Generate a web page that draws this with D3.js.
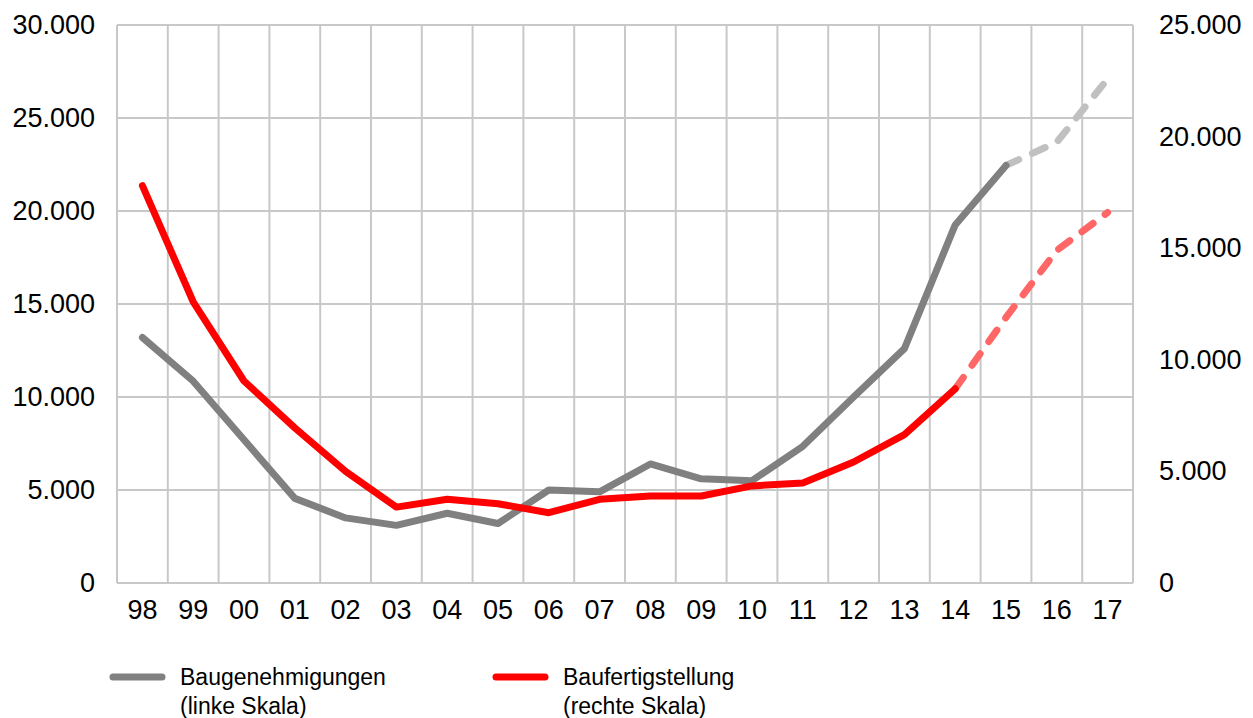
<!DOCTYPE html>
<html>
<head>
<meta charset="utf-8">
<script src="https://cdn.jsdelivr.net/npm/d3@7"></script>
<style>
  body { margin: 0; background: #fff; }
  text { font-family: "Liberation Sans", Arial, sans-serif; fill: #000; }
</style>
</head>
<body>
<div id="chart"></div>
<script>
// categories (years) and the two series
var years = ["98","99","00","01","02","03","04","05","06","07","08","09","10","11","12","13","14","15","16","17"]
// Baugenehmigungen, left scale
var permits = [13200,10850,7700,4550,3500,3100,3750,3200,5000,4900,6400,5600,5500,7350,10000,12600,19250,22450,23700,27100]
// Baufertigstellung, right scale
var completions = [17800,12600,9050,6950,5000,3400,3750,3550,3150,3750,3900,3900,4350,4480,5420,6650,8700,11900,14900,16600]
var permitsLastActual = 17     // index of "15": dashed after it
var completionsLastActual = 16 // index of "14"
var leftTicks = [0,5000,10000,15000,20000,25000,30000]
var rightTicks = [0,5000,10000,15000,20000,25000]

var width = 1253
var height = 718
var margin = {left: 117, right: 120, top: 25, bottom: 135}

var svg = d3.select("#chart")
    .append("svg")
    .attr("width", width)
    .attr("height", height)

var x = d3.scaleBand()
    .domain(years)
    .range([margin.left, width - margin.right])

var yL = d3.scaleLinear().domain([0, 30000]).range([height - margin.bottom, margin.top])
var yR = d3.scaleLinear().domain([0, 25000]).range([height - margin.bottom, margin.top])

var fmt = function (v) { return d3.format(",")(v).replace(/,/g, ".") }
var gridColor = "#c8c8c8"

// horizontal grid lines
svg.append("g")
    .selectAll("line")
    .data(leftTicks)
    .enter()
    .append("line")
    .attr("x1", margin.left)
    .attr("x2", width - margin.right)
    .attr("y1", function (d) { return yL(d) })
    .attr("y2", function (d) { return yL(d) })
    .style("stroke", gridColor)
    .style("stroke-width", 2)

// vertical grid lines at category boundaries
var bounds = years.map(function (d) { return x(d) }).concat([x(years[years.length - 1]) + x.bandwidth()])
svg.append("g")
    .selectAll("line")
    .data(bounds)
    .enter()
    .append("line")
    .attr("x1", function (d) { return d })
    .attr("x2", function (d) { return d })
    .attr("y1", margin.top)
    .attr("y2", height - margin.bottom)
    .style("stroke", gridColor)
    .style("stroke-width", 2)

// left axis labels
svg.append("g")
    .selectAll("text")
    .data(leftTicks)
    .enter()
    .append("text")
    .attr("x", 95)
    .attr("y", function (d) { return yL(d) })
    .attr("text-anchor", "end")
    .attr("dominant-baseline", "central")
    .style("font-size", "27px")
    .text(function (d) { return fmt(d) })

// right axis labels
svg.append("g")
    .selectAll("text")
    .data(rightTicks)
    .enter()
    .append("text")
    .attr("x", 1159)
    .attr("y", function (d) { return yR(d) })
    .attr("text-anchor", "start")
    .attr("dominant-baseline", "central")
    .style("font-size", "27px")
    .text(function (d) { return fmt(d) })

// x labels
svg.append("g")
    .selectAll("text")
    .data(years)
    .enter()
    .append("text")
    .attr("x", function (d) { return x(d) + x.bandwidth() / 2 })
    .attr("y", 610)
    .attr("text-anchor", "middle")
    .attr("dominant-baseline", "central")
    .style("font-size", "27px")
    .text(function (d) { return d })

// draw one series: solid part up to lastActual, dashed lighter part after
function drawSeries(values, yScale, lastActual, color, lightColor) {
    var pts = values.map(function (v, i) { return [x(years[i]) + x.bandwidth() / 2, yScale(v)] })
    var line = d3.line()
    svg.append("path")
        .attr("d", line(pts.slice(lastActual)))
        .style("fill", "none")
        .style("stroke", lightColor)
        .style("stroke-width", 7)
        .style("stroke-linecap", "round")
        .style("stroke-dasharray", "14,15")
    svg.append("path")
        .attr("d", line(pts.slice(0, lastActual + 1)))
        .style("fill", "none")
        .style("stroke", color)
        .style("stroke-width", 7)
        .style("stroke-linejoin", "round")
        .style("stroke-linecap", "round")
}

drawSeries(permits, yL, permitsLastActual, "#808080", "#c0c0c0")
drawSeries(completions, yR, completionsLastActual, "#ff0000", "#ff6666")

// legend
var legend = [
    {color: "#808080", x: 110, lines: ["Baugenehmigungen", "(linke Skala)"]},
    {color: "#ff0000", x: 493, lines: ["Baufertigstellung", "(rechte Skala)"]}
]
legend.forEach(function (l) {
    svg.append("line")
        .attr("x1", l.x + 3).attr("x2", l.x + 52)
        .attr("y1", 677).attr("y2", 677)
        .style("stroke", l.color)
        .style("stroke-width", 7)
        .style("stroke-linecap", "round")
    l.lines.forEach(function (t, i) {
        svg.append("text")
            .attr("x", l.x + 70)
            .attr("y", 677 + i * 29)
            .attr("dominant-baseline", "central")
            .style("font-size", "23px")
            .text(t)
    })
})
</script>
</body>
</html>
